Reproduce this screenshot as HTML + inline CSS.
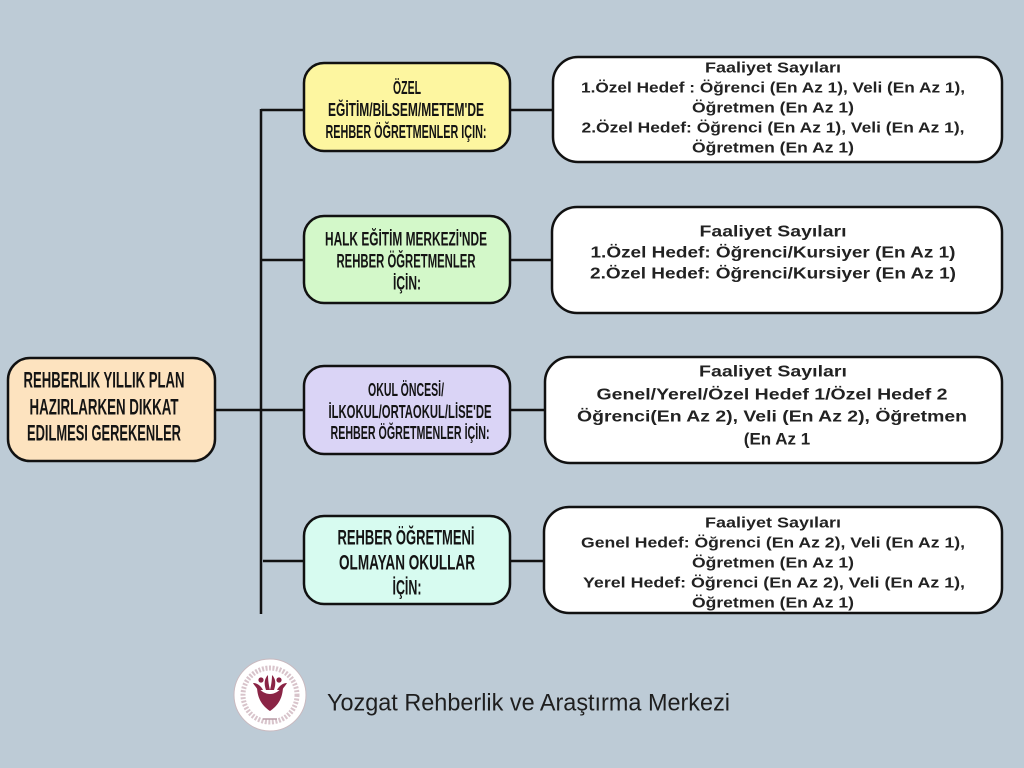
<!DOCTYPE html>
<html>
<head>
<meta charset="utf-8">
<style>
html,body{margin:0;padding:0;}
body{width:1024px;height:768px;overflow:hidden;background:#bdcbd6;}
svg{display:block;}
.mid{font-family:"Liberation Sans",sans-serif;font-weight:bold;fill:#141414;}
.rt{font-family:"Liberation Sans",sans-serif;font-weight:bold;fill:#222;}
</style>
</head>
<body>
<svg width="1024" height="768" viewBox="0 0 1024 768" xmlns="http://www.w3.org/2000/svg">
  <rect x="0" y="0" width="1024" height="768" fill="#bdcbd6"/>

  <!-- connectors -->
  <g stroke="#111" stroke-width="2.5" fill="none">
    <line x1="261" y1="109" x2="261" y2="614"/>
    <line x1="215" y1="410" x2="304" y2="410"/>
    <line x1="261" y1="110" x2="304" y2="110"/>
    <line x1="261" y1="260" x2="304" y2="260"/>
    <line x1="263" y1="561" x2="304" y2="561"/>
    <line x1="510" y1="110" x2="553" y2="110"/>
    <line x1="510" y1="260" x2="552" y2="260"/>
    <line x1="510" y1="410" x2="545" y2="410"/>
    <line x1="510" y1="561" x2="544" y2="561"/>
  </g>

  <!-- left root box -->
  <rect x="8" y="358" width="207" height="103" rx="22" fill="#fde3bf" stroke="#111" stroke-width="2.5"/>
  <g class="mid" font-size="22" text-anchor="middle" dominant-baseline="central">
    <text x="104" y="380" textLength="161" lengthAdjust="spacingAndGlyphs">REHBERLIK YILLIK PLAN</text>
    <text x="104" y="407" textLength="149" lengthAdjust="spacingAndGlyphs">HAZIRLARKEN DIKKAT</text>
    <text x="104" y="433" textLength="154" lengthAdjust="spacingAndGlyphs">EDILMESI GEREKENLER</text>
  </g>

  <!-- middle boxes -->
  <rect x="304" y="63" width="206" height="88" rx="20" fill="#fdf6a0" stroke="#111" stroke-width="2.5"/>
  <rect x="304" y="216" width="206" height="87" rx="20" fill="#d3f8c9" stroke="#111" stroke-width="2.5"/>
  <rect x="304" y="366" width="206" height="88" rx="20" fill="#dad4f6" stroke="#111" stroke-width="2.5"/>
  <rect x="304" y="516" width="206" height="88" rx="20" fill="#d7fbf0" stroke="#111" stroke-width="2.5"/>

  <g class="mid" text-anchor="middle" dominant-baseline="central">
    <text x="407" y="88" font-size="18" textLength="28" lengthAdjust="spacingAndGlyphs">ÖZEL</text>
    <text x="406" y="110" font-size="18" textLength="156" lengthAdjust="spacingAndGlyphs">EĞİTİM/BİLSEM/METEM'DE</text>
    <text x="406" y="132" font-size="18" textLength="161" lengthAdjust="spacingAndGlyphs">REHBER ÖĞRETMENLER IÇIN:</text>

    <text x="406" y="240" font-size="19" textLength="162" lengthAdjust="spacingAndGlyphs">HALK EĞİTİM MERKEZİ'NDE</text>
    <text x="406" y="262" font-size="19" textLength="139" lengthAdjust="spacingAndGlyphs">REHBER ÖĞRETMENLER</text>
    <text x="407" y="284" font-size="19" textLength="28" lengthAdjust="spacingAndGlyphs">İÇİN:</text>

    <text x="406" y="390" font-size="18" textLength="76" lengthAdjust="spacingAndGlyphs">OKUL ÖNCESİ/</text>
    <text x="410" y="412" font-size="18" textLength="163" lengthAdjust="spacingAndGlyphs">İLKOKUL/ORTAOKUL/LİSE'DE</text>
    <text x="410" y="433" font-size="18" textLength="159" lengthAdjust="spacingAndGlyphs">REHBER ÖĞRETMENLER İÇİN:</text>

    <text x="406" y="538" font-size="21" textLength="137" lengthAdjust="spacingAndGlyphs">REHBER ÖĞRETMENİ</text>
    <text x="407" y="563" font-size="21" textLength="136" lengthAdjust="spacingAndGlyphs">OLMAYAN OKULLAR</text>
    <text x="407" y="588" font-size="21" textLength="29" lengthAdjust="spacingAndGlyphs">İÇİN:</text>
  </g>

  <!-- right boxes -->
  <rect x="553" y="57" width="449" height="105" rx="25" fill="#ffffff" stroke="#111" stroke-width="2.5"/>
  <rect x="552" y="207" width="450" height="106" rx="25" fill="#ffffff" stroke="#111" stroke-width="2.5"/>
  <rect x="545" y="357" width="457" height="106" rx="25" fill="#ffffff" stroke="#111" stroke-width="2.5"/>
  <rect x="544" y="507" width="458" height="106" rx="25" fill="#ffffff" stroke="#111" stroke-width="2.5"/>

  <g class="rt" text-anchor="middle" dominant-baseline="central">
    <text x="773" y="68" font-size="15" textLength="136" lengthAdjust="spacingAndGlyphs">Faaliyet Sayıları</text>
    <text x="773" y="88" font-size="15" textLength="384" lengthAdjust="spacingAndGlyphs">1.Özel Hedef : Öğrenci (En Az 1), Veli (En Az 1),</text>
    <text x="773" y="108" font-size="15" textLength="162" lengthAdjust="spacingAndGlyphs">Öğretmen (En Az 1)</text>
    <text x="773" y="128" font-size="15" textLength="383" lengthAdjust="spacingAndGlyphs">2.Özel Hedef: Öğrenci (En Az 1), Veli (En Az 1),</text>
    <text x="773" y="148" font-size="15" textLength="162" lengthAdjust="spacingAndGlyphs">Öğretmen (En Az 1)</text>

    <text x="773" y="232" font-size="16" textLength="147" lengthAdjust="spacingAndGlyphs">Faaliyet Sayıları</text>
    <text x="773" y="253" font-size="16" textLength="365" lengthAdjust="spacingAndGlyphs">1.Özel Hedef: Öğrenci/Kursiyer (En Az 1)</text>
    <text x="773" y="274" font-size="16" textLength="366" lengthAdjust="spacingAndGlyphs">2.Özel Hedef: Öğrenci/Kursiyer (En Az 1)</text>

    <text x="773" y="372" font-size="16" textLength="148" lengthAdjust="spacingAndGlyphs">Faaliyet Sayıları</text>
    <text x="772" y="395" font-size="16" textLength="351" lengthAdjust="spacingAndGlyphs">Genel/Yerel/Özel Hedef 1/Özel Hedef 2</text>
    <text x="772" y="417" font-size="16" textLength="390" lengthAdjust="spacingAndGlyphs">Öğrenci(En Az 2), Veli (En Az 2), Öğretmen</text>
    <text x="777" y="439" font-size="17">(En Az 1</text>

    <text x="773" y="523" font-size="15" textLength="136" lengthAdjust="spacingAndGlyphs">Faaliyet Sayıları</text>
    <text x="773" y="543" font-size="15" textLength="384" lengthAdjust="spacingAndGlyphs">Genel Hedef: Öğrenci (En Az 2), Veli (En Az 1),</text>
    <text x="773" y="563" font-size="15" textLength="162" lengthAdjust="spacingAndGlyphs">Öğretmen (En Az 1)</text>
    <text x="774" y="583" font-size="15" textLength="382" lengthAdjust="spacingAndGlyphs">Yerel Hedef: Öğrenci (En Az 2), Veli (En Az 1),</text>
    <text x="773" y="603" font-size="15" textLength="162" lengthAdjust="spacingAndGlyphs">Öğretmen (En Az 1)</text>
  </g>

  <!-- logo -->
  <g>
    <circle cx="270" cy="695" r="36" fill="#ffffff" stroke="#c9b9bf" stroke-width="1"/>
    <circle cx="270" cy="695" r="27" fill="none" stroke="#d8c4cb" stroke-width="5" stroke-dasharray="2 1.5"/>
    <circle cx="270" cy="695" r="23" fill="#ffffff"/>
    <path d="M257,686 C257,700 264,707 270,711 C276,707 283,700 283,686 C279,692 274,694 270,694 C266,694 261,692 257,686 Z" fill="#8a2445"/>
    <path d="M266,690 C264,684 264,679 268,675 C268,681 269,686 270,690 C271,686 272,681 272,675 C276,679 276,684 274,690 Z" fill="#8a2445"/>
    <circle cx="261" cy="680" r="2.6" fill="#8a2445"/>
    <circle cx="279" cy="680" r="2.6" fill="#8a2445"/>
    <path d="M253,683 C257,683 261,686 263,690 L258,690 C256,687 254,685 253,683 Z" fill="#8a2445"/>
    <path d="M287,683 C283,683 279,686 277,690 L282,690 C284,687 286,685 287,683 Z" fill="#8a2445"/>
    <line x1="263" y1="719" x2="277" y2="719" stroke="#b89aa5" stroke-width="1.5"/>
  </g>

  <text x="327" y="703" font-family="'Liberation Sans', sans-serif" font-size="24" fill="#1e1e1e" dominant-baseline="central" textLength="403" lengthAdjust="spacingAndGlyphs">Yozgat Rehberlik ve Araştırma Merkezi</text>
</svg>
</body>
</html>
